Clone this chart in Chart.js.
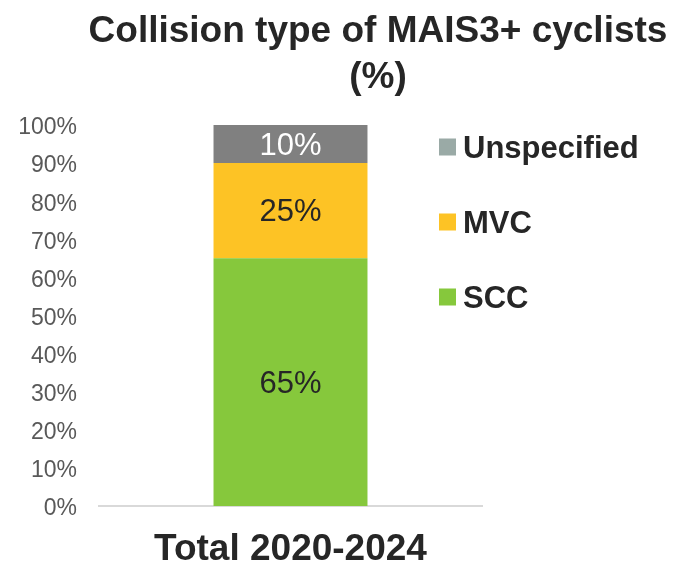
<!DOCTYPE html>
<html>
<head>
<meta charset="utf-8">
<script src="https://cdn.jsdelivr.net/npm/chart.js@4.4.1/dist/chart.umd.min.js"></script>
<style>
  html, body { margin: 0; padding: 0; background: #fff; }
  #wrap { width: 673px; height: 569px; position: relative; }
</style>
</head>
<body>
<div id="wrap"><canvas id="chart" width="673" height="569"></canvas></div>
<script>
const categories = ["Total 2020-2024"];
const seriesNames = ["SCC", "MVC", "Unspecified"];
const sccValues = [65];
const mvcValues = [25];
const unspecifiedValues = [10];
const yTicks = [0, 10, 20, 30, 40, 50, 60, 70, 80, 90, 100];
const titleLines = ["Collision type of MAIS3+ cyclists", "(%)"];

const barColors = ["#86c83c", "#fdc325", "#808080"];
const legendColors = ["#86c83c", "#fdc325", "#9aaaa6"];
const labelColors = ["#262626", "#262626", "#ffffff"];

const font = "'Liberation Sans', Arial, sans-serif";

// title is centred off the canvas middle, like the original, so draw it here
const titleText = {
    id: "titleText",
    afterDraw(chart) {
        const ctx = chart.ctx;
        ctx.save();
        ctx.font = "bold 37px " + font;
        ctx.fillStyle = "#262626";
        ctx.textAlign = "center";
        ctx.textBaseline = "middle";
        titleLines.forEach((line, i) => ctx.fillText(line, 378, 32 + i * 46));
        ctx.restore();
    }
};

// legend sits in the top right, items listed top to bottom
const sideLegend = {
    id: "sideLegend",
    afterDraw(chart) {
        const ctx = chart.ctx;
        const area = chart.chartArea;
        const x = area.right - 43;
        ctx.save();
        ctx.font = "bold 31px " + font;
        ctx.textBaseline = "middle";
        const items = chart.data.datasets.map((ds, i) => i).reverse();
        items.forEach((idx, k) => {
            const y = area.top + 22 + k * 75;
            ctx.fillStyle = legendColors[idx];
            ctx.fillRect(x, y - 8.5, 17, 17);
            ctx.fillStyle = "#262626";
            ctx.fillText(chart.data.datasets[idx].label, x + 24, y + 2);
        });
        ctx.restore();
    }
};

// draws the value inside each stacked segment
const valueLabels = {
    id: "valueLabels",
    afterDatasetsDraw(chart) {
        const ctx = chart.ctx;
        ctx.save();
        ctx.font = "31px " + font;
        ctx.textAlign = "center";
        ctx.textBaseline = "middle";
        chart.data.datasets.forEach((ds, i) => {
            chart.getDatasetMeta(i).data.forEach((bar, j) => {
                const c = bar.getCenterPoint();
                ctx.fillStyle = labelColors[i];
                ctx.fillText(ds.data[j] + "%", c.x, c.y + 2);
            });
        });
        ctx.restore();
    }
};

new Chart(document.getElementById("chart"), {
    type: "bar",
    data: {
        labels: categories,
        datasets: [
            { label: seriesNames[0], data: sccValues, backgroundColor: barColors[0] },
            { label: seriesNames[1], data: mvcValues, backgroundColor: barColors[1] },
            { label: seriesNames[2], data: unspecifiedValues, backgroundColor: barColors[2] }
        ]
    },
    options: {
        responsive: false,
        animation: false,
        layout: { padding: { left: 19, right: 191, top: 125, bottom: 0 } },
        datasets: { bar: { categoryPercentage: 1, barPercentage: 0.402 } },
        scales: {
            x: {
                stacked: true,
                grid: { display: false, drawTicks: false },
                border: { color: "#d9d9d9", width: 2 },
                ticks: { display: false },
                afterFit: axis => { axis.height = 63; },
                title: {
                    display: true,
                    text: categories[0],
                    color: "#262626",
                    font: { family: font, size: 37, weight: "bold", lineHeight: 1.05 },
                    padding: { top: 20, bottom: 0 }
                }
            },
            y: {
                stacked: true,
                min: 0,
                max: 100,
                afterBuildTicks: axis => { axis.ticks = yTicks.map(v => ({ value: v })); },
                afterFit: axis => { axis.width = 80; },
                grid: { display: false, drawTicks: false },
                border: { display: false },
                ticks: {
                    color: "#595959",
                    padding: 22,
                    labelOffset: 3,
                    font: { family: font, size: 23 },
                    callback: v => v + "%"
                }
            }
        },
        plugins: {
            title: { display: false },
            legend: { display: false },
            tooltip: { enabled: false }
        }
    },
    plugins: [valueLabels, titleText, sideLegend]
});
</script>
</body>
</html>
